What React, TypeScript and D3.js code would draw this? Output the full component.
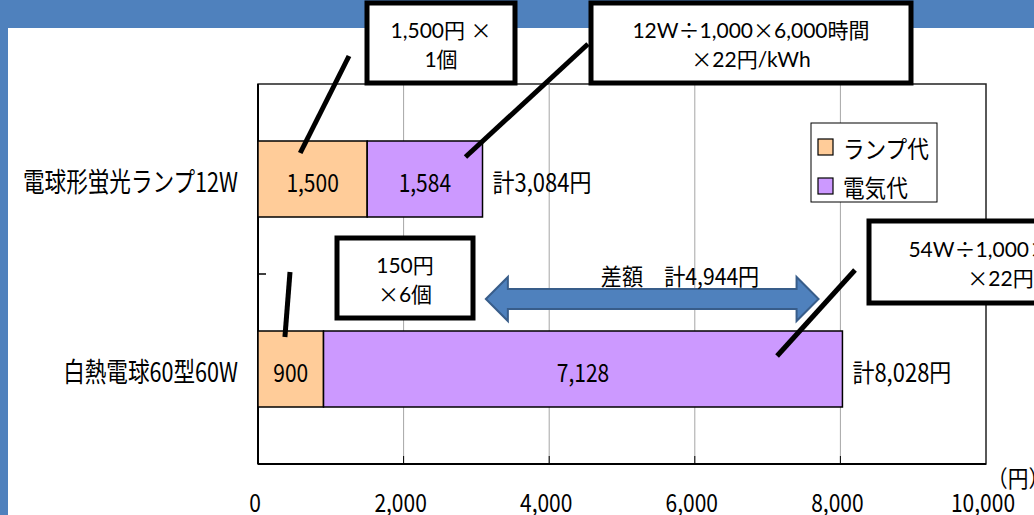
import React from 'react';
import * as d3 from 'd3';

const categories = ['電球形蛍光ランプ12W', '白熱電球60型60W'];
const lampCost = [1500, 900];
const powerCost = [1584, 7128];
const seriesNames = ['ランプ代', '電気代'];
const seriesColors = ['#FFCC99', '#CC99FF'];
const xTicks = [0, 2000, 4000, 6000, 8000, 10000];
const diffLabel = '差額　計4,944円';
const calloutLines = [
  ['1,500円 ×', '1個'],
  ['12W÷1,000×6,000時間', '×22円/kWh'],
  ['150円', '×6個'],
  ['54W÷1,000×6,000時間', '×22円/kWh'],
];

const W = 1034;
const H = 515;
const plot = { left: 258, right: 986, top: 84, bottom: 464 };
const jpFont = "'Noto Sans CJK JP', sans-serif";
const boxFont = "Lato, 'Noto Sans CJK JP', sans-serif";

const fmt = d3.format(',');

// condensed text, like the squeezed original
const CText = ({ x, y, sx = 0.84, size = 25, anchor = 'middle', baseline = 'central', children, font = jpFont }: any) => (
  <text
    transform={`translate(${x},${y}) scale(${sx},1)`}
    textAnchor={anchor}
    dominantBaseline={baseline}
    fontFamily={font}
    fontSize={size}
    fill="#000"
  >
    {children}
  </text>
);

// × and ÷ come out wide in the original, so give them the CJK font
const splitSymbols = (t: string) =>
  t.split(/([×÷])/).filter(Boolean).map((p, i) =>
    p === '×' || p === '÷' ? (
      <tspan key={i} fontFamily={jpFont}>{p}</tspan>
    ) : (
      <tspan key={i}>{p}</tspan>
    )
  );

const Callout = ({ x, y, w, h, lines, size = 21, dy = 29 }: any) => (
  <g>
    <rect x={x} y={y} width={w} height={h} fill="#fff" stroke="#000" strokeWidth={5} />
    {lines.map((t: string, i: number) => (
      <text
        key={i}
        x={x + w / 2}
        y={y + h / 2 + (i - 0.5) * dy}
        textAnchor="middle"
        dominantBaseline="central"
        fontFamily={boxFont}
        fontSize={size}
        fill="#000"
      >
        {splitSymbols(t)}
      </text>
    ))}
  </g>
);

export default function App() {
  const x = d3.scaleLinear().domain([0, 10000]).range([plot.left, plot.right]);
  const y = d3
    .scaleBand<string>()
    .domain(categories)
    .range([plot.top, plot.bottom])
    .paddingInner(0.6)
    .paddingOuter(0.3);
  const bw = y.bandwidth();
  const mid = (plot.top + plot.bottom) / 2;

  const top1 = y(categories[0])!;
  const top2 = y(categories[1])!;

  // double arrow
  const ax0 = x(3130);
  const ax1 = x(7700);
  const ay = mid + 25;
  const head = 22;
  const arrowPath = [
    [ax0, ay],
    [ax0 + head, ay - 22],
    [ax0 + head, ay - 10],
    [ax1 - head, ay - 10],
    [ax1 - head, ay - 22],
    [ax1, ay],
    [ax1 - head, ay + 22],
    [ax1 - head, ay + 10],
    [ax0 + head, ay + 10],
    [ax0 + head, ay + 22],
  ];

  return (
    <svg width={W} height={H} style={{ position: 'absolute', left: 0, top: 0 }}>
      <rect width={W} height={H} fill="#4F81BD" />
      <rect x={8} y={28} width={W - 8} height={H - 28} fill="#fff" />

      {/* plot frame and grid */}
      <rect
        x={plot.left}
        y={plot.top}
        width={plot.right - plot.left}
        height={plot.bottom - plot.top}
        fill="#fff"
        stroke="#222"
        strokeWidth={1.5}
      />
      {xTicks.slice(1, -1).map(t => (
        <line key={t} x1={x(t)} x2={x(t)} y1={plot.top} y2={plot.bottom} stroke="#A6A6A6" strokeWidth={1} />
      ))}
      {xTicks.slice(1, -1).map(t => (
        <line key={'t' + t} x1={x(t)} x2={x(t)} y1={plot.bottom - 8} y2={plot.bottom} stroke="#000" strokeWidth={1} />
      ))}
      <line x1={plot.left} x2={plot.left + 8} y1={mid} y2={mid} stroke="#000" strokeWidth={1.5} />
      <line x1={plot.left} x2={plot.left} y1={plot.top} y2={plot.bottom} stroke="#000" strokeWidth={2} />
      <line x1={plot.left} x2={plot.right} y1={plot.bottom} y2={plot.bottom} stroke="#000" strokeWidth={2} />

      {/* bars */}
      {categories.map((c, i) => {
        const y0 = y(c)!;
        const cy = y0 + bw / 2 + 2;
        const total = lampCost[i] + powerCost[i];
        return (
          <g key={c}>
            <rect x={x(0)} y={y0} width={x(lampCost[i]) - x(0)} height={bw} fill={seriesColors[0]} stroke="#000" strokeWidth={1.5} />
            <rect x={x(lampCost[i])} y={y0} width={x(total) - x(lampCost[i])} height={bw} fill={seriesColors[1]} stroke="#000" strokeWidth={1.5} />
            <CText x={(x(0) + x(lampCost[i])) / 2} y={cy}>{fmt(lampCost[i])}</CText>
            <CText x={(x(lampCost[i]) + x(total)) / 2} y={cy}>{fmt(powerCost[i])}</CText>
            <CText x={x(total) + 10} y={cy} anchor="start" sx={0.88}>{`計${fmt(total)}円`}</CText>
            <CText x={238} y={y0 + bw / 2 + 1} anchor="end" size={27} sx={0.8}>{c}</CText>
          </g>
        );
      })}

      {/* x tick labels */}
      {xTicks.map(t => (
        <CText key={t} x={x(t) - 3} y={512} baseline="alphabetic">{fmt(t)}</CText>
      ))}
      <CText x={987} y={477} anchor="start" size={23} sx={0.9}>（円）</CText>

      {/* legend */}
      <rect x={811} y={123} width={126} height={79} fill="#fff" stroke="#000" strokeWidth={1} />
      {seriesNames.map((s, i) => (
        <g key={s}>
          <rect x={818} y={139 + i * 39} width={15} height={16} fill={seriesColors[i]} stroke="#000" strokeWidth={1.2} />
          <CText x={843} y={148 + i * 39} anchor="start" size={24} sx={0.9}>{s}</CText>
        </g>
      ))}

      {/* difference arrow */}
      <path d={d3.line()(arrowPath as [number, number][])! + 'Z'} fill="#4F81BD" stroke="#385D8A" strokeWidth={2} />
      <CText x={680} y={275} size={23} sx={0.92}>{diffLabel}</CText>

      {/* leader lines */}
      <g stroke="#000" strokeWidth={5}>
        <line x1={349} y1={56} x2={x(580)} y2={top1 + 12} />
        <line x1={588} y1={44} x2={x(2850)} y2={top1 + 16} />
        <line x1={290} y1={272} x2={x(370)} y2={top2 + 6} />
        <line x1={855} y1={270} x2={x(7130)} y2={top2 + 25} />
      </g>

      {/* callout boxes */}
      <Callout x={367} y={3} w={148} h={80} lines={calloutLines[0]} />
      <Callout x={591} y={3} w={320} h={80} lines={calloutLines[1]} />
      <Callout x={337} y={238} w={136} h={80} lines={calloutLines[2]} />
      <Callout x={869} y={221} w={316} h={82} lines={calloutLines[3]} />
    </svg>
  );
}
